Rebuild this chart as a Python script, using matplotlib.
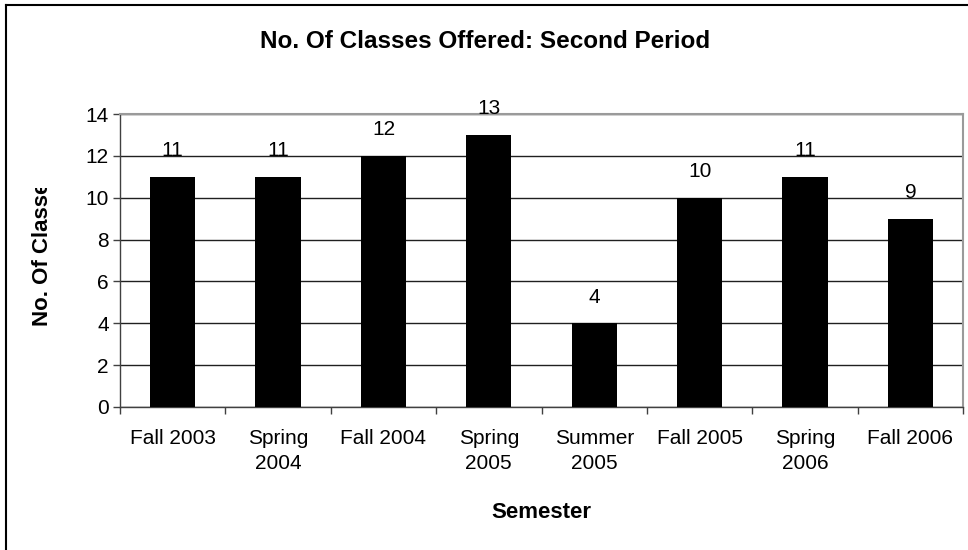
import matplotlib.pyplot as plt
from matplotlib.lines import Line2D
from matplotlib.transforms import Bbox

semesters = ['Fall 2003', 'Spring\n2004', 'Fall 2004', 'Spring\n2005',
             'Summer\n2005', 'Fall 2005', 'Spring\n2006', 'Fall 2006']
classes = [11, 11, 12, 13, 4, 10, 11, 9]
y_ticks = [0, 2, 4, 6, 8, 10, 12, 14]

plt.rcParams['font.family'] = ['Liberation Sans', 'DejaVu Sans']
FS = 15

fig = plt.figure(figsize=(9.68, 5.5), dpi=100)
ax = fig.add_axes([120 / 968, 143 / 550, 843 / 968, 293 / 550])

x = list(range(len(semesters)))
ax.bar(x, classes, width=0.43, color='black', zorder=3)
for xi, v in zip(x, classes):
    ax.text(xi, v + 0.8, str(v), ha='center', va='bottom', fontsize=FS)

ax.set_xlim(-0.5, len(semesters) - 0.5)
ax.set_ylim(0, 14)
ax.set_yticks(y_ticks)
ax.tick_params(axis='y', labelsize=FS, length=5, width=1, color='#404040', pad=3)
ax.set_xticks([i - 0.5 for i in range(len(semesters) + 1)], minor=False)
ax.set_xticklabels([])
ax.set_xticks(x, minor=True)
ax.set_xticklabels(semesters, minor=True, fontsize=FS, linespacing=1.4)
ax.tick_params(axis='x', which='major', length=5, width=1, color='#404040')
ax.tick_params(axis='x', which='minor', length=0, pad=16)

ax.grid(True, axis='y', color='#202020', linewidth=1, zorder=0)
for side in ['top', 'right']:
    ax.spines[side].set_color('#9a9a9a')
    ax.spines[side].set_linewidth(1.5)
for side in ['left', 'bottom']:
    ax.spines[side].set_color('#404040')
    ax.spines[side].set_linewidth(1)

fig.text(541 / 968, 1 - 512 / 550, 'Semester', fontsize=16, fontweight='bold',
         ha='center', va='center')
ylab = fig.text(42 / 968, 1 - 254 / 550, 'No. Of Classe', fontsize=16,
                fontweight='bold', rotation=90, ha='center', va='center')
# the axis title is cut off at its top in the original chart
ylab.set_clip_box(Bbox.from_extents(0, 0, 968, 550 - 188))
ylab.set_clip_on(True)

fig.text(485 / 968, 1 - 42 / 550, 'No. Of Classes Offered: Second Period',
         fontsize=17.5, fontweight='bold', ha='center', va='center')

# outer chart border (top and left edges visible)
fig.add_artist(Line2D([6 / 968, 1], [1 - 5 / 550, 1 - 5 / 550],
                      color='black', linewidth=1.5, transform=fig.transFigure))
fig.add_artist(Line2D([6 / 968, 6 / 968], [0, 1 - 5 / 550],
                      color='black', linewidth=1.5, transform=fig.transFigure))

fig.savefig('out.png', dpi=100)
